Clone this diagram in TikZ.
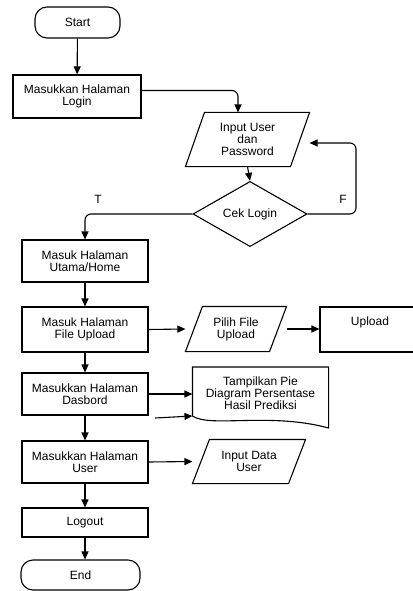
\documentclass[tikz,border=0pt]{standalone}
\usepackage{fontspec}
\setmainfont{Liberation Sans}
\usetikzlibrary{shapes.geometric,arrows.meta,calc}
\tikzset{
  base/.style={font=\fontsize{12}{12.2}\selectfont, align=center, inner sep=0pt, line width=1.1pt},
  box/.style={base, draw, rectangle},
  term/.style={base, draw, rectangle, rounded corners=12pt},
  para/.style={base, rectangle},
  dec/.style={base, draw, diamond},
  arr/.style={line width=1.1pt, -{Triangle[length=8pt,width=7pt]}},
  edge/.style={line width=1.1pt},
  lbl/.style={font=\fontsize{12}{12}\selectfont, inner sep=0pt}
}
\newcommand{\slantbox}[2]{%
  \draw[edge] ($(#1.north west)+(#2,0)$) -- (#1.north east) -- ($(#1.south east)-(#2,0)$) -- (#1.south west) -- cycle;}
\begin{document}
\begin{tikzpicture}[x=1pt,y=-1pt]
\useasboundingbox (0,0) rectangle (412,591);
% nodes
\node[term, minimum width=85, minimum height=31] (start) at (77.5,22.5) {Start};
\node[box, minimum width=128, minimum height=43] (login) at (77,96.5) {Masukkan Halaman\\Login};
\node[para, minimum width=123, minimum height=53] (inp) at (247.5,139.5) {Input User\\dan\\Password};
\slantbox{inp}{19}
\node[dec, minimum width=114, minimum height=52] (cek) at (250,214) {Cek Login};
\node[box, minimum width=126, minimum height=42] (utama) at (85,261) {Masuk Halaman\\Utama/Home};
\node[box, minimum width=126, minimum height=45] (file) at (85,329.5) {Masuk Halaman\\File Upload};
\node[para, minimum width=100, minimum height=44] (pilih) at (236,329) {Pilih File\\Upload};
\slantbox{pilih}{17}
\node[box, minimum width=100, minimum height=45, text depth=16pt] (upl) at (370,329.5) {Upload};
\node[box, minimum width=126, minimum height=42] (dash) at (85,394) {Masukkan Halaman\\Dasbord};
\node[para, minimum width=135, minimum height=54] (doc) at (260.5,393) {Tampilkan Pie\\Diagram Persentase\\Hasil Prediksi};
\draw[edge] (doc.west |- 0,367) -- (doc.east |- 0,367) -- (doc.east |- 0,428)
  .. controls (270,412) and (210,428) .. (doc.west |- 0,416) -- cycle;
\node[box, minimum width=126, minimum height=42] (user) at (85,462) {Masukkan Halaman\\User};
\node[para, minimum width=112, minimum height=43] (idata) at (249,461.5) {Input Data\\User};
\slantbox{idata}{17}
\node[box, minimum width=126, minimum height=29] (logout) at (85,522.5) {Logout};
\node[term, minimum width=119, minimum height=30] (end) at (80.5,575) {End};
% coordinates
\coordinate (fc) at (356,143);
\coordinate (d2) at (155,418);
% connectors
\draw[arr] (start) -- (login);
\draw[arr, rounded corners=6pt] ([yshift=6pt]login.east) -| ([xshift=-9.5pt]inp.north);
\draw[arr] (inp.south) -- (cek.north);
\draw[arr, rounded corners=6pt] (cek.east) -| (fc) -- (fc -| inp.east);
\draw[arr, rounded corners=6pt] (cek.west) -| (utama.north);
\draw[arr] (utama) -- (file);
\draw[arr] (file.east) -- (pilih.west);
\draw[arr] (pilih.east) -- (pilih.east -| upl.west);
\draw[arr] (file) -- (dash);
\draw[arr] (dash.east) -- (doc.west |- dash.east);
\draw[arr] (d2) -- (doc.west |- 0,416);
\draw[arr] (dash) -- (user);
\draw[arr] (user.east) -- (idata.west);
\draw[arr] (user) -- (logout);
\draw[arr] (logout.south) -- (logout.south |- end.north);
% labels
\node[lbl] (tl) at (98,199) {T};
\node[lbl] (fl) at (343,199) {F};
\end{tikzpicture}
\end{document}
